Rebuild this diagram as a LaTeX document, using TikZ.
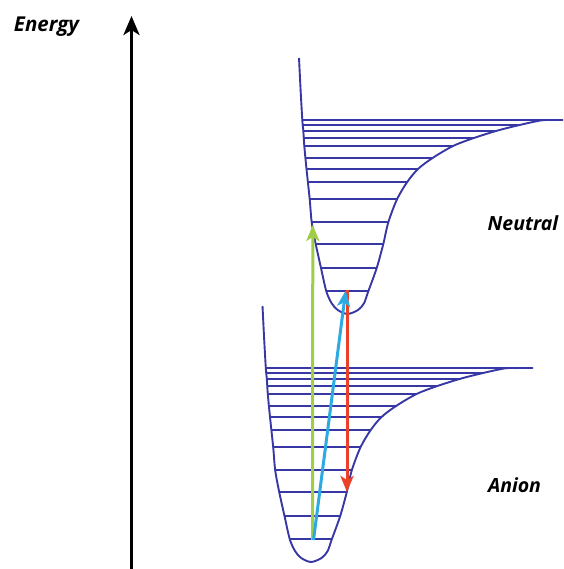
\documentclass[tikz,border=0pt]{standalone}
\usepackage{fontspec}
\setmainfont{Open Sans}
\usetikzlibrary{arrows.meta}
\definecolor{wellblue}{RGB}{55,55,165}
\definecolor{arrgreen}{RGB}{160,205,70}
\definecolor{arrblue}{RGB}{45,170,225}
\definecolor{arrred}{RGB}{235,65,40}
\newcommand{\drawwell}[1]{%
  \draw[wellline] plot[smooth, tension=0.5] coordinates {
    (299,58) (300.6,90) (302.3,120) (303.3,130.7) (304.3,146) (306.5,169)
    (309.7,199.3) (311.7,222.3) (315.7,244) (321,268) (326.3,291.3)
    (331.7,303.3) (337.7,310) (347.5,314) (358,310) (364,303.3)
    (368.3,291.3) (376.7,268) (383.3,244) (388.3,222.3)
    (397,199.3) (407,182.3) (418,169) (433,157.7) (453,146) (473,138.3)
    (497,130.7) (520,124.9) (541,120.4) (552,120.05)} -- (#1,120);
  \foreach \yy/\xl/\xr in {120/302.3/#1, 124.9/303/520, 130.7/303.3/497,
      138.3/303.8/473, 146/304.3/453, 157.7/305.3/433, 169/306.5/418,
      182.3/308/407, 199.3/309.7/397, 222.3/311.7/388.3, 244/315.7/383.3,
      268/321/376.7, 291.3/326.3/368.3}
    \draw[wellline] (\xl,\yy) -- (\xr,\yy);
}
\begin{document}
\begin{tikzpicture}[x=1pt,y=-1pt,
  wellline/.style={draw=wellblue, line width=1.9pt},
  transition/.style={line width=3pt, -{Stealth[length=16pt,width=13pt,inset=4pt]}},
  lbl/.style={font=\fontsize{19.5}{22}\selectfont\bfseries\itshape, inner sep=0pt}]
\useasboundingbox (0,0) rectangle (563,569);
% energy axis
\coordinate (axisbottom) at (131.5,569);
\coordinate (axistop) at (131.5,16);
\draw[line width=3.2pt, -{Stealth[length=19pt,width=16pt,inset=5pt]}] (axisbottom) -- (axistop);
\node[lbl, font=\fontsize{20.5}{22}\selectfont\bfseries\itshape] (energy) at (46.5,27) {Energy};
% neutral well
\drawwell{563}
% anion well (same shape, shifted)
\begin{scope}[shift={(-36.5,248)}]
\drawwell{569.5}
\end{scope}
\node[lbl] (neutral) at (523,223) {Neutral};
\node[lbl] (anion) at (514.5,485) {Anion};
% transitions
\coordinate (gstart) at (312.5,540);
\coordinate (gend) at (312.8,225);
\coordinate (bstart) at (313.5,540);
\coordinate (bend) at (345.7,290.5);
\coordinate (rstart) at (347,290);
\coordinate (rend) at (347,492);
\draw[transition, draw=arrgreen, color=arrgreen] (gstart) -- (gend);
\draw[transition, draw=arrred, color=arrred] (rstart) -- (rend);
\draw[transition, draw=arrblue, color=arrblue] (bstart) -- (bend);
\end{tikzpicture}
\end{document}
